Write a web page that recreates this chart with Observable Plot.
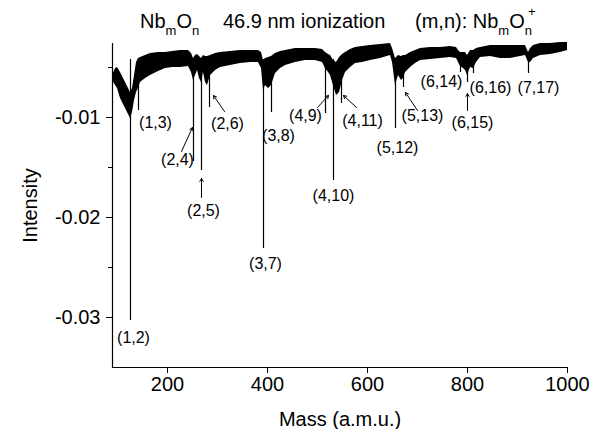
<!DOCTYPE html>
<html>
<head>
<meta charset="utf-8">
<script src="https://cdn.jsdelivr.net/npm/d3@7"></script>
<script src="https://cdn.jsdelivr.net/npm/@observablehq/plot@0.6"></script>
<style>
  html, body { margin: 0; padding: 0; background: white; }
  #chart { width: 591px; height: 429px; }
</style>
</head>
<body>
<div id="chart"></div>
<script>
// Spectrum noise band envelope (mass, upper and lower edge of the dense trace)
const mass = [90,96,100,106,112,116,122,126,130,134,138,142,146,156,166,182,196,210,226,242,
  248,252,256,260,264,268,272,276,280,286,296,306,326,346,366,382,388,392,396,402,
  408,416,426,436,456,476,496,510,516,522,526,532,538,544,550,556,566,576,590,606,
  626,646,650,656,662,668,672,676,686,696,706,726,746,766,778,782,786,792,796,800,
  806,812,818,826,846,866,886,906,916,922,926,932,946,966,986,1000];
const upper = [-0.0058,-0.0051,-0.0050,-0.0055,-0.0061,-0.0065,-0.0071,-0.0075,-0.0071,-0.0058,
  -0.0045,-0.0041,-0.0040,-0.0038,-0.0036,-0.0035,-0.0035,-0.0034,-0.0033,-0.0033,
  -0.0036,-0.0041,-0.0038,-0.0037,-0.0039,-0.0041,-0.0038,-0.0039,-0.0039,-0.0038,
  -0.0036,-0.0035,-0.0034,-0.0033,-0.0033,-0.0033,-0.0035,-0.0043,-0.0041,-0.0040,
  -0.0039,-0.0036,-0.0034,-0.0033,-0.0031,-0.0031,-0.0031,-0.0032,-0.0035,-0.0037,
  -0.0038,-0.0043,-0.0045,-0.0040,-0.0037,-0.0035,-0.0032,-0.0030,-0.0029,-0.0028,
  -0.0027,-0.0026,-0.0031,-0.0041,-0.0038,-0.0039,-0.0038,-0.0038,-0.0035,-0.0033,
  -0.0031,-0.0030,-0.0030,-0.0029,-0.0030,-0.0033,-0.0035,-0.0035,-0.0035,-0.0038,
  -0.0033,-0.0033,-0.0031,-0.0030,-0.0028,-0.0028,-0.0028,-0.0028,-0.0028,-0.0035,
  -0.0031,-0.0028,-0.0026,-0.0026,-0.0025,-0.0025];
const lower = [-0.0063,-0.0068,-0.0071,-0.0081,-0.0087,-0.0091,-0.0097,-0.0101,-0.0095,-0.0083,
  -0.0075,-0.0071,-0.0065,-0.0061,-0.0058,-0.0054,-0.0051,-0.0050,-0.0050,-0.0049,
  -0.0055,-0.0063,-0.0058,-0.0053,-0.0061,-0.0065,-0.0055,-0.0065,-0.0068,-0.0058,
  -0.0053,-0.0050,-0.0048,-0.0046,-0.0045,-0.0045,-0.0051,-0.0073,-0.0068,-0.0071,
  -0.0068,-0.0056,-0.0051,-0.0048,-0.0045,-0.0043,-0.0043,-0.0045,-0.0051,-0.0055,
  -0.0058,-0.0068,-0.0078,-0.0075,-0.0063,-0.0055,-0.0050,-0.0046,-0.0045,-0.0043,
  -0.0041,-0.0038,-0.0045,-0.0068,-0.0058,-0.0063,-0.0061,-0.0055,-0.0050,-0.0046,
  -0.0043,-0.0042,-0.0041,-0.0040,-0.0041,-0.0045,-0.0049,-0.0051,-0.0053,-0.0058,
  -0.0050,-0.0051,-0.0045,-0.0040,-0.0039,-0.0041,-0.0041,-0.0039,-0.0038,-0.0045,
  -0.0045,-0.0041,-0.0038,-0.0037,-0.0035,-0.0033];

// Peaks (NbmOn+ mass lines) and their minimum intensity
const peakMass = [126,142,252,268,284,392,408,516,532,548,656,672,786,800,812,922];
const peakMin  = [-0.0303,-0.0093,-0.0144,-0.0153,-0.0090,-0.0231,-0.0095,-0.0096,-0.0163,-0.0086,-0.0111,-0.0070,-0.0055,-0.0065,-0.0056,-0.0056];
const peakTop  = -0.0042;

// Peak labels
const labelText = ["(1,2)","(1,3)","(2,4)","(2,5)","(2,6)","(3,7)","(3,8)","(4,9)","(4,10)","(4,11)","(5,12)","(5,13)","(6,14)","(6,15)","(6,16)","(7,17)"];
const labelMass = [132,176,220,272,320,396,422,476,532,590,660,710,748,810,846,942];
const labelInt  = [-0.0320,-0.0105,-0.0142,-0.0193,-0.0106,-0.0246,-0.0118,-0.0098,-0.0178,-0.0103,-0.0130,-0.0098,-0.0064,-0.0105,-0.0070,-0.0070];

// Arrows pointing from labels to peaks
const arrowFromMass = [228,268,314,500,578,700,800];
const arrowFromInt  = [-0.0134,-0.0180,-0.0094,-0.0090,-0.0090,-0.0093,-0.0093];
const arrowToMass   = [250,268,292,522,552,676,800];
const arrowToInt    = [-0.0110,-0.0161,-0.0078,-0.0078,-0.0078,-0.0075,-0.0076];

const xTicks = [200,400,600,800,1000];
const yTicks = [-0.01,-0.02,-0.03];
const yMinor = [-0.005,-0.015,-0.025];

const band = mass.map((m, i) => ({mass: m, upper: upper[i], lower: lower[i]}));
const peaks = peakMass.map((m, i) => ({mass: m, min: peakMin[i], top: peakTop}));
const labels = labelText.map((t, i) => ({text: t, mass: labelMass[i], y: labelInt[i]}));
const arrows = arrowFromMass.map((m, i) => ({x1: m, y1: arrowFromInt[i], x2: arrowToMass[i], y2: arrowToInt[i]}));

const font = "'Liberation Sans', Arial, Helvetica, sans-serif";

const svg = Plot.plot({
  width: 591,
  height: 429,
  marginLeft: 112,
  marginRight: 24,
  marginTop: 43,
  marginBottom: 62,
  style: {fontFamily: font, fontSize: "20px", color: "black", background: "white"},
  x: {domain: [90, 1000]},
  y: {domain: [-0.035, -0.0026]},
  marks: [
    Plot.areaY(band, {x: "mass", y1: "lower", y2: "upper", fill: "black"}),
    Plot.ruleX(peaks, {x: "mass", y1: "top", y2: "min", stroke: "black", strokeWidth: 1.2}),
    Plot.ruleX([90], {stroke: "black", strokeWidth: 1.2}),
    Plot.ruleY([-0.035], {stroke: "black", strokeWidth: 1.2}),
    Plot.axisX({ticks: xTicks, tickSize: 6, tickPadding: 3, label: null, tickFormat: d => String(d)}),
    Plot.axisY({ticks: yTicks, tickSize: 6, tickPadding: 6, label: null, tickFormat: d => d.toFixed(2)}),
    Plot.axisY({ticks: yMinor, tickSize: 4, label: null, tickFormat: () => ""}),
    Plot.text(labels, {x: "mass", y: "y", text: "text", fontSize: 16, fill: "black"}),
    Plot.arrow(arrows, {x1: "x1", y1: "y1", x2: "x2", y2: "y2", headLength: 5, strokeWidth: 1, stroke: "black"}),
    Plot.text(["Intensity"], {frameAnchor: "left", dx: -82, rotate: -90, textAnchor: "middle", lineAnchor: "middle", fontSize: 20}),
    Plot.text(["Mass (a.m.u.)"], {frameAnchor: "bottom", dy: 52, textAnchor: "middle", lineAnchor: "middle", fontSize: 20})
  ]
});

// Title with sub/superscripts
const s = d3.select(svg);
function title(x, parts) {
  const t = s.append("text").attr("x", x).attr("y", 28)
    .attr("text-anchor", "start")
    .attr("font-family", font).attr("font-size", 20).attr("fill", "black");
  for (const p of parts) {
    const ts = t.append("tspan").text(p.t);
    if (p.dy) ts.attr("dy", p.dy);
    if (p.dx) ts.attr("dx", p.dx);
    if (p.fs) ts.attr("font-size", p.fs);
  }
}
title(140, [{t: "Nb"}, {t: "m", dy: 7, fs: 13}, {t: "O", dy: -7}, {t: "n", dy: 7, fs: 13}]);
title(223, [{t: "46.9 nm ionization"}]);
title(415, [{t: "(m,n): Nb"}, {t: "m", dy: 7, fs: 13}, {t: "O", dy: -7}, {t: "n", dy: 7, fs: 13}, {t: "+", dy: -19, dx: -4, fs: 13}]);

document.getElementById("chart").appendChild(svg);
</script>
</body>
</html>
